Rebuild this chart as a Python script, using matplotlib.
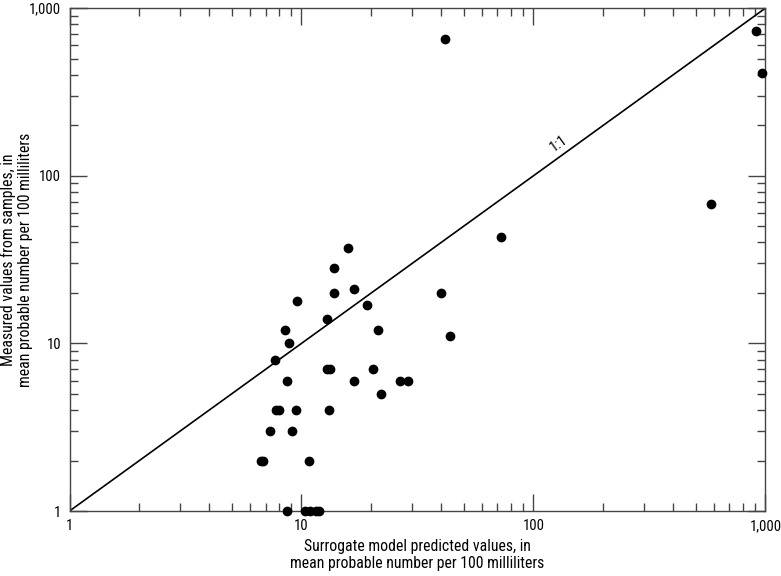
import matplotlib
matplotlib.use("Agg")
import matplotlib.pyplot as plt
from matplotlib.ticker import FixedLocator, NullFormatter

# surrogate model predicted vs measured (MPN per 100 mL)
predicted = [15.9, 13.8, 13.8, 16.9, 9.55, 19.1, 12.9, 8.5, 21.4, 8.8,
             7.68, 12.9, 13.3, 20.3, 8.7, 16.8, 26.7, 28.8, 22.0, 7.78,
             8.0, 9.46, 13.2, 7.35, 9.09, 6.7, 6.8, 10.75, 8.7, 10.4,
             10.9, 11.5, 11.9, 40.0, 43.5, 41.7, 908, 970, 582, 72.5]
measured = [37, 28, 20, 21, 18, 17, 14, 12, 12, 10,
            8, 7, 7, 7, 6, 6, 6, 6, 5, 4,
            4, 4, 4, 3, 3, 2, 2, 2, 1, 1,
            1, 1, 1, 20, 11, 655, 734, 412, 68, 43]

major = [1, 10, 100, 1000]
major_labels = ["1", "10", "100", "1,000"]
minor = [m * d for d in (1, 10, 100) for m in range(2, 10)]

narrow = ["Roboto Condensed", "Archivo Narrow", "PT Sans Narrow",
          "Fira Sans Condensed", "Liberation Sans Narrow", "DejaVu Sans"]

fig = plt.figure(figsize=(7.81, 5.76), dpi=100)
ax = fig.add_axes([0.089, 0.1128, 0.891, 0.873])

ax.plot([1, 1000], [1, 1000], color="black", lw=1.2, zorder=2)
ax.scatter(predicted, measured, s=36, color="black", zorder=3, clip_on=False)
ax.text(128, 155, "1:1", rotation=35.7, ha="center", va="center",
        fontsize=10.5, family=narrow)

ax.set_xscale("log")
ax.set_yscale("log")
ax.set_xlim(1, 1000)
ax.set_ylim(1, 1000)

for axis in (ax.xaxis, ax.yaxis):
    axis.set_major_locator(FixedLocator(major))
    axis.set_minor_locator(FixedLocator(minor))
    axis.set_minor_formatter(NullFormatter())
ax.set_xticklabels(major_labels, family=narrow, fontsize=10.5)
ax.set_yticklabels(major_labels, family=narrow, fontsize=10.5)

ax.tick_params(which="both", direction="in", top=True, right=True,
               color="#444444", width=1)
ax.tick_params(which="major", length=12, pad=6)
ax.tick_params(which="minor", length=6)
for sp in ax.spines.values():
    sp.set_color("#444444")
    sp.set_linewidth(1)

ax.set_xlabel("Surrogate model predicted values, in\nmean probable number per 100 milliliters",
              family=narrow, fontsize=11.3, labelpad=4, linespacing=1.2)
ax.set_ylabel("Measured values from samples, in\nmean probable number per 100 milliliters",
              family=narrow, fontsize=11.3, linespacing=1.2)
# put the y label near the left edge like the original
ax.yaxis.set_label_coords(-0.052, 0.5)

fig.savefig("out.png", dpi=100)
